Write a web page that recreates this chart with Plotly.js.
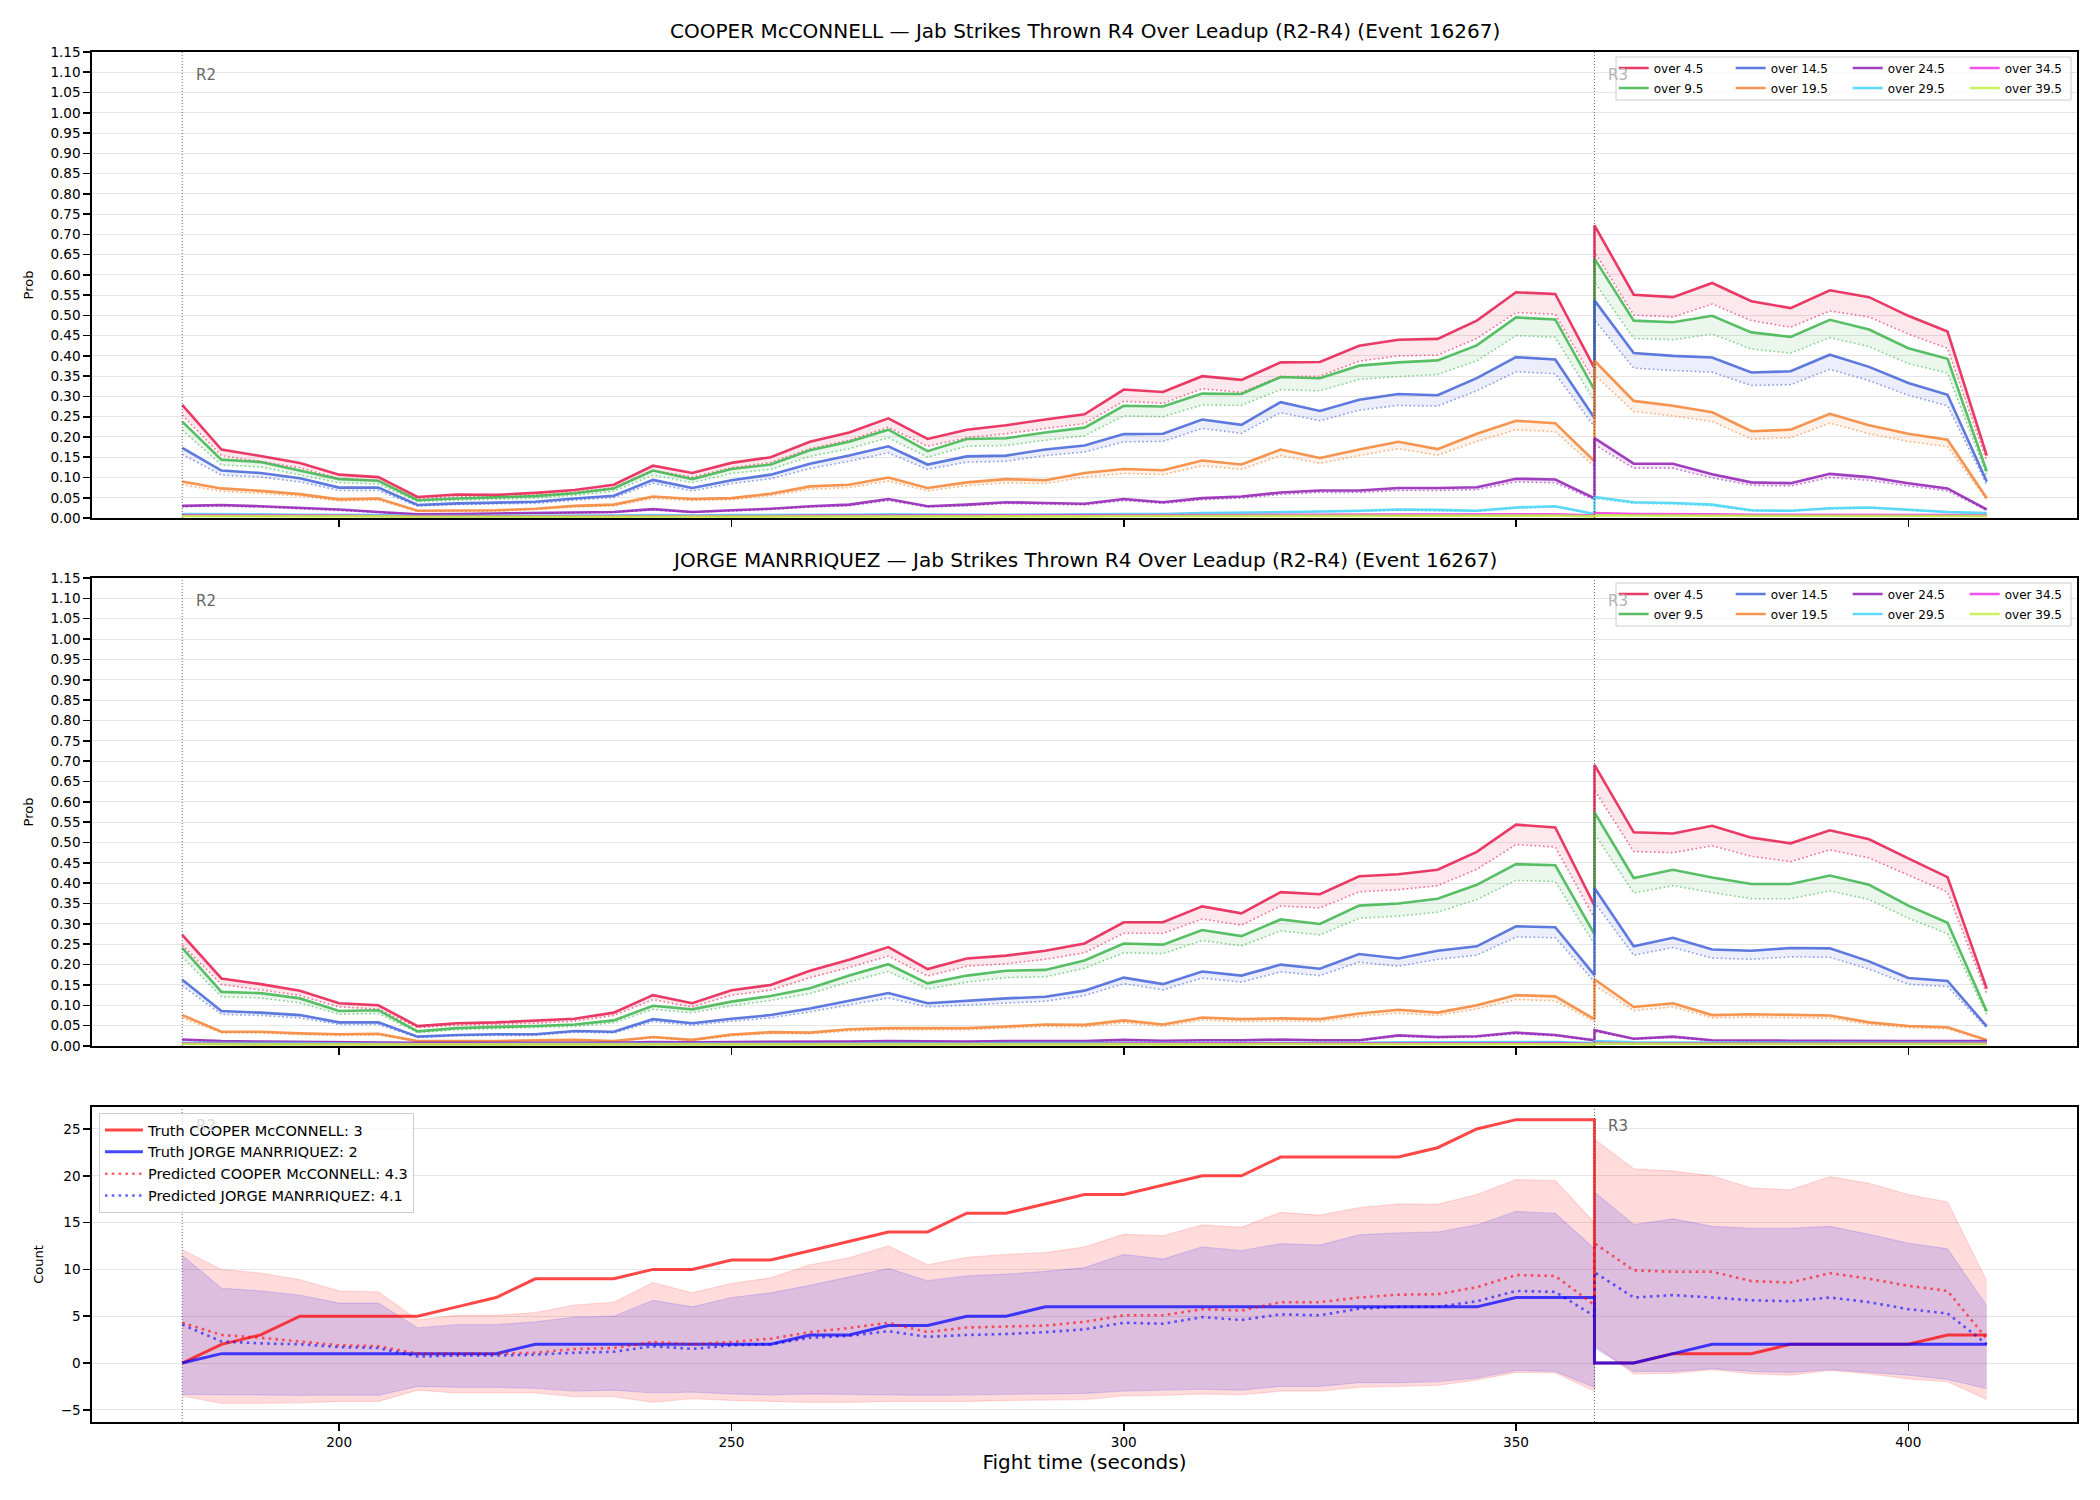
<!DOCTYPE html>
<html>
<head>
<meta charset="utf-8">
<script src="https://cdn.plot.ly/plotly-3.0.1.min.js"></script>
<style>
  html, body { margin: 0; padding: 0; background: #ffffff; }
  #chart { width: 2100px; height: 1500px; }
</style>
</head>
<body>
<div id="chart"></div>
<script>
// Fight clock (seconds). 360 appears twice: end of R2 and start of R3.
const fightTime = [180,185,190,195,200,205,210,215,220,225,230,235,240,245,250,255,260,265,270,275,280,285,290,295,300,305,310,315,320,325,330,335,340,345,350,355,360,360,365,370,375,380,385,390,395,400,405,410];

const thresholdLabels = ['over 4.5','over 9.5','over 14.5','over 19.5','over 24.5','over 29.5','over 34.5','over 39.5'];

// COOPER McCONNELL: probability of exceeding each jab threshold (solid) and companion curve (dotted)
const cooperOver4_5  = [0.279,0.169,0.153,0.136,0.107,0.101,0.052,0.058,0.057,0.062,0.069,0.082,0.129,0.111,0.136,0.150,0.188,0.211,0.246,0.195,0.218,0.229,0.243,0.256,0.317,0.311,0.350,0.341,0.384,0.385,0.425,0.440,0.442,0.487,0.557,0.553,0.370,0.722,0.551,0.545,0.580,0.535,0.518,0.562,0.545,0.499,0.460,0.154];
const cooperOver4_5Dot = [0.254,0.154,0.139,0.124,0.097,0.092,0.047,0.053,0.052,0.056,0.063,0.075,0.117,0.101,0.124,0.137,0.171,0.192,0.224,0.177,0.198,0.208,0.221,0.233,0.288,0.283,0.319,0.310,0.349,0.350,0.387,0.400,0.402,0.443,0.507,0.503,0.337,0.657,0.501,0.496,0.528,0.487,0.471,0.511,0.496,0.454,0.419,0.140];
const cooperOver9_5  = [0.238,0.144,0.138,0.117,0.096,0.092,0.044,0.048,0.051,0.054,0.061,0.073,0.117,0.096,0.121,0.132,0.167,0.188,0.218,0.165,0.195,0.197,0.211,0.223,0.277,0.275,0.307,0.306,0.348,0.345,0.376,0.384,0.389,0.426,0.495,0.490,0.317,0.640,0.487,0.483,0.499,0.458,0.447,0.489,0.465,0.419,0.393,0.115];
const cooperOver9_5Dot = [0.217,0.131,0.126,0.106,0.087,0.084,0.040,0.044,0.046,0.049,0.056,0.066,0.106,0.087,0.110,0.120,0.152,0.171,0.198,0.150,0.177,0.179,0.192,0.203,0.252,0.250,0.279,0.278,0.317,0.314,0.342,0.349,0.354,0.388,0.450,0.446,0.288,0.582,0.443,0.440,0.454,0.417,0.407,0.445,0.423,0.381,0.358,0.105];
const cooperOver14_5 = [0.173,0.117,0.111,0.098,0.075,0.075,0.032,0.036,0.038,0.040,0.048,0.055,0.094,0.074,0.093,0.107,0.134,0.154,0.177,0.132,0.152,0.154,0.169,0.179,0.207,0.208,0.243,0.230,0.286,0.264,0.292,0.306,0.303,0.345,0.397,0.391,0.247,0.537,0.407,0.400,0.396,0.359,0.362,0.403,0.373,0.333,0.304,0.090];
const cooperOver14_5Dot = [0.157,0.106,0.101,0.089,0.068,0.068,0.029,0.033,0.035,0.036,0.044,0.050,0.086,0.067,0.085,0.097,0.122,0.140,0.161,0.120,0.138,0.140,0.154,0.163,0.188,0.189,0.221,0.209,0.260,0.240,0.266,0.278,0.276,0.314,0.361,0.356,0.225,0.489,0.370,0.364,0.360,0.327,0.329,0.367,0.339,0.303,0.277,0.082];
const cooperOver19_5 = [0.090,0.073,0.067,0.059,0.046,0.048,0.018,0.019,0.019,0.023,0.030,0.033,0.053,0.047,0.049,0.060,0.078,0.082,0.100,0.074,0.088,0.096,0.093,0.111,0.121,0.118,0.142,0.132,0.169,0.148,0.169,0.188,0.170,0.208,0.240,0.234,0.140,0.388,0.289,0.277,0.261,0.214,0.218,0.257,0.229,0.208,0.193,0.049];
const cooperOver19_5Dot = [0.082,0.066,0.061,0.054,0.042,0.044,0.016,0.017,0.017,0.021,0.027,0.030,0.048,0.043,0.045,0.055,0.071,0.075,0.091,0.067,0.080,0.087,0.085,0.101,0.110,0.107,0.129,0.120,0.154,0.135,0.154,0.171,0.155,0.189,0.218,0.213,0.127,0.353,0.263,0.252,0.238,0.195,0.198,0.234,0.208,0.189,0.176,0.045];
const cooperOver24_5 = [0.030,0.032,0.029,0.025,0.021,0.015,0.009,0.010,0.011,0.012,0.013,0.015,0.022,0.015,0.019,0.023,0.029,0.033,0.047,0.029,0.033,0.039,0.037,0.035,0.047,0.039,0.049,0.053,0.063,0.068,0.068,0.074,0.074,0.076,0.097,0.095,0.049,0.197,0.134,0.134,0.108,0.088,0.086,0.109,0.101,0.086,0.073,0.021];
const cooperOver24_5Dot = [0.028,0.029,0.027,0.023,0.019,0.014,0.008,0.009,0.010,0.011,0.012,0.014,0.020,0.014,0.017,0.021,0.027,0.030,0.043,0.027,0.030,0.036,0.034,0.032,0.043,0.036,0.045,0.049,0.058,0.063,0.063,0.068,0.068,0.070,0.089,0.087,0.045,0.181,0.123,0.123,0.099,0.081,0.079,0.100,0.093,0.079,0.067,0.019];
const cooperOver29_5 = [0.010,0.010,0.009,0.008,0.008,0.007,0.005,0.005,0.005,0.006,0.006,0.006,0.007,0.006,0.007,0.007,0.008,0.008,0.009,0.008,0.008,0.008,0.008,0.009,0.010,0.010,0.012,0.013,0.015,0.016,0.018,0.021,0.020,0.018,0.026,0.029,0.010,0.052,0.039,0.037,0.033,0.019,0.018,0.024,0.026,0.021,0.015,0.012];
const cooperOver29_5Dot = [0.009,0.009,0.008,0.007,0.007,0.006,0.005,0.005,0.005,0.005,0.005,0.005,0.006,0.005,0.006,0.006,0.007,0.007,0.008,0.007,0.007,0.007,0.007,0.008,0.009,0.009,0.011,0.012,0.014,0.015,0.016,0.019,0.018,0.016,0.024,0.027,0.009,0.048,0.036,0.034,0.030,0.017,0.017,0.022,0.024,0.019,0.014,0.011];
const cooperOver34_5 = [0.007,0.007,0.006,0.006,0.006,0.005,0.004,0.004,0.004,0.004,0.005,0.005,0.005,0.005,0.005,0.005,0.006,0.006,0.006,0.006,0.006,0.006,0.006,0.006,0.007,0.007,0.007,0.007,0.008,0.008,0.008,0.008,0.008,0.008,0.009,0.009,0.006,0.012,0.010,0.010,0.009,0.008,0.008,0.008,0.008,0.008,0.007,0.006];
const cooperOver34_5Dot = [0.006,0.006,0.006,0.005,0.005,0.005,0.004,0.004,0.004,0.004,0.004,0.004,0.005,0.004,0.005,0.005,0.005,0.005,0.006,0.005,0.005,0.005,0.005,0.006,0.006,0.006,0.006,0.006,0.007,0.007,0.007,0.007,0.007,0.007,0.008,0.008,0.005,0.011,0.009,0.009,0.008,0.007,0.007,0.007,0.007,0.007,0.006,0.005];
const cooperOver39_5 = [0.005,0.005,0.005,0.005,0.004,0.004,0.003,0.003,0.003,0.003,0.003,0.003,0.004,0.004,0.004,0.004,0.004,0.004,0.004,0.004,0.004,0.004,0.004,0.004,0.005,0.005,0.005,0.005,0.005,0.005,0.005,0.005,0.005,0.005,0.006,0.006,0.004,0.007,0.006,0.006,0.006,0.005,0.005,0.005,0.005,0.005,0.005,0.005];
const cooperOver39_5Dot = [0.004,0.004,0.004,0.004,0.004,0.004,0.003,0.003,0.003,0.003,0.003,0.003,0.003,0.003,0.003,0.003,0.004,0.004,0.004,0.004,0.004,0.004,0.004,0.004,0.004,0.004,0.004,0.004,0.005,0.005,0.005,0.005,0.005,0.005,0.005,0.005,0.004,0.006,0.005,0.005,0.005,0.005,0.005,0.005,0.005,0.005,0.004,0.004];

// JORGE MANRRIQUEZ
const jorgeOver4_5  = [0.273,0.166,0.152,0.136,0.105,0.100,0.049,0.056,0.058,0.062,0.067,0.082,0.125,0.105,0.137,0.150,0.185,0.212,0.243,0.189,0.215,0.222,0.234,0.252,0.304,0.304,0.343,0.326,0.378,0.373,0.417,0.422,0.433,0.477,0.544,0.537,0.345,0.691,0.525,0.522,0.541,0.512,0.498,0.530,0.508,0.461,0.415,0.141];
const jorgeOver4_5Dot = [0.248,0.151,0.138,0.124,0.096,0.091,0.045,0.051,0.053,0.056,0.061,0.075,0.114,0.096,0.125,0.137,0.168,0.193,0.221,0.172,0.196,0.202,0.213,0.229,0.277,0.277,0.312,0.297,0.344,0.339,0.379,0.384,0.394,0.434,0.495,0.489,0.314,0.629,0.478,0.475,0.492,0.466,0.453,0.482,0.462,0.420,0.378,0.128];
const jorgeOver9_5  = [0.241,0.133,0.130,0.117,0.086,0.088,0.036,0.044,0.047,0.049,0.053,0.063,0.099,0.090,0.109,0.123,0.142,0.173,0.201,0.154,0.173,0.185,0.187,0.210,0.252,0.249,0.285,0.270,0.311,0.300,0.345,0.350,0.362,0.396,0.447,0.444,0.275,0.574,0.413,0.433,0.414,0.398,0.398,0.419,0.396,0.345,0.303,0.085];
const jorgeOver9_5Dot = [0.219,0.121,0.118,0.106,0.078,0.080,0.033,0.040,0.043,0.045,0.048,0.057,0.090,0.082,0.099,0.112,0.129,0.157,0.183,0.140,0.157,0.168,0.170,0.191,0.229,0.227,0.259,0.246,0.283,0.273,0.314,0.319,0.329,0.360,0.407,0.404,0.250,0.522,0.376,0.394,0.377,0.362,0.362,0.381,0.360,0.314,0.276,0.077];
const jorgeOver14_5 = [0.163,0.086,0.082,0.076,0.058,0.058,0.023,0.027,0.029,0.029,0.037,0.035,0.066,0.056,0.067,0.076,0.092,0.111,0.130,0.105,0.111,0.117,0.121,0.136,0.168,0.152,0.183,0.173,0.200,0.190,0.226,0.215,0.234,0.245,0.294,0.292,0.174,0.388,0.245,0.266,0.237,0.234,0.241,0.240,0.208,0.167,0.160,0.048];
const jorgeOver14_5Dot = [0.148,0.078,0.075,0.069,0.053,0.053,0.021,0.025,0.026,0.026,0.034,0.032,0.060,0.051,0.061,0.069,0.084,0.101,0.118,0.096,0.101,0.106,0.110,0.124,0.153,0.138,0.167,0.157,0.182,0.173,0.206,0.196,0.213,0.223,0.268,0.266,0.158,0.353,0.223,0.242,0.216,0.213,0.219,0.218,0.189,0.152,0.146,0.044];
const jorgeOver19_5 = [0.076,0.035,0.035,0.031,0.029,0.030,0.012,0.012,0.012,0.014,0.015,0.012,0.022,0.015,0.028,0.034,0.033,0.041,0.044,0.044,0.044,0.048,0.053,0.052,0.063,0.053,0.070,0.066,0.068,0.066,0.080,0.089,0.082,0.100,0.125,0.122,0.066,0.164,0.096,0.105,0.076,0.078,0.076,0.075,0.058,0.049,0.046,0.015];
const jorgeOver19_5Dot = [0.069,0.032,0.032,0.028,0.026,0.027,0.011,0.011,0.011,0.013,0.014,0.011,0.020,0.014,0.025,0.031,0.030,0.037,0.040,0.040,0.040,0.044,0.048,0.047,0.057,0.048,0.064,0.060,0.062,0.060,0.073,0.081,0.075,0.091,0.114,0.111,0.060,0.149,0.087,0.096,0.069,0.071,0.069,0.068,0.053,0.045,0.042,0.014];
const jorgeOver24_5 = [0.016,0.012,0.011,0.010,0.009,0.009,0.008,0.008,0.008,0.008,0.008,0.008,0.010,0.009,0.010,0.010,0.011,0.011,0.012,0.011,0.011,0.012,0.012,0.012,0.015,0.013,0.014,0.014,0.016,0.014,0.014,0.026,0.022,0.024,0.033,0.027,0.014,0.039,0.018,0.023,0.014,0.013,0.013,0.013,0.012,0.012,0.012,0.012];
const jorgeOver24_5Dot = [0.015,0.011,0.010,0.009,0.008,0.008,0.007,0.007,0.007,0.007,0.007,0.007,0.009,0.008,0.009,0.009,0.010,0.010,0.011,0.010,0.010,0.011,0.011,0.011,0.014,0.012,0.013,0.013,0.015,0.013,0.013,0.024,0.020,0.022,0.030,0.025,0.013,0.036,0.017,0.021,0.013,0.012,0.012,0.012,0.011,0.011,0.011,0.011];
const jorgeOver29_5 = [0.008,0.007,0.007,0.007,0.006,0.006,0.005,0.005,0.005,0.005,0.005,0.005,0.006,0.005,0.006,0.006,0.006,0.006,0.007,0.006,0.006,0.007,0.007,0.007,0.007,0.007,0.007,0.007,0.008,0.008,0.008,0.009,0.009,0.009,0.010,0.010,0.007,0.012,0.009,0.009,0.008,0.008,0.008,0.008,0.008,0.008,0.008,0.008];
const jorgeOver29_5Dot = [0.007,0.006,0.006,0.006,0.005,0.005,0.004,0.004,0.004,0.004,0.004,0.004,0.005,0.004,0.005,0.005,0.005,0.005,0.006,0.005,0.005,0.006,0.006,0.006,0.006,0.006,0.006,0.006,0.007,0.007,0.007,0.008,0.008,0.008,0.009,0.009,0.006,0.011,0.008,0.008,0.007,0.007,0.007,0.007,0.007,0.007,0.007,0.007];
const jorgeOver34_5 = [0.006,0.005,0.005,0.005,0.005,0.005,0.004,0.004,0.004,0.004,0.004,0.004,0.005,0.004,0.005,0.005,0.005,0.005,0.005,0.005,0.005,0.005,0.005,0.005,0.006,0.006,0.006,0.006,0.006,0.006,0.006,0.007,0.007,0.007,0.007,0.007,0.005,0.008,0.006,0.006,0.006,0.006,0.006,0.006,0.006,0.006,0.006,0.006];
const jorgeOver34_5Dot = [0.005,0.005,0.005,0.004,0.004,0.004,0.004,0.004,0.004,0.004,0.004,0.004,0.004,0.004,0.004,0.004,0.004,0.004,0.005,0.004,0.004,0.005,0.005,0.005,0.005,0.005,0.005,0.005,0.005,0.005,0.005,0.006,0.006,0.006,0.006,0.006,0.004,0.007,0.005,0.005,0.005,0.005,0.005,0.005,0.005,0.005,0.005,0.005];
const jorgeOver39_5 = [0.005,0.004,0.004,0.004,0.004,0.004,0.003,0.003,0.003,0.003,0.003,0.003,0.004,0.003,0.004,0.004,0.004,0.004,0.004,0.004,0.004,0.004,0.004,0.004,0.004,0.004,0.004,0.004,0.005,0.005,0.005,0.005,0.005,0.005,0.005,0.005,0.004,0.006,0.005,0.005,0.005,0.005,0.005,0.005,0.005,0.005,0.005,0.005];
const jorgeOver39_5Dot = [0.004,0.004,0.004,0.004,0.003,0.003,0.003,0.003,0.003,0.003,0.003,0.003,0.003,0.003,0.003,0.003,0.003,0.003,0.004,0.003,0.003,0.004,0.004,0.004,0.004,0.004,0.004,0.004,0.004,0.004,0.004,0.004,0.004,0.004,0.005,0.005,0.003,0.005,0.004,0.004,0.004,0.004,0.004,0.004,0.004,0.004,0.004,0.004];

// Cumulative jab counts: truth, predicted mean and predicted band
const truthCooper = [0,2,3,5,5,5,5,6,7,9,9,9,10,10,11,11,12,13,14,14,16,16,17,18,18,19,20,20,22,22,22,22,23,25,26,26,26,0,0,1,1,1,2,2,2,2,3,3];
const truthJorge  = [0,1,1,1,1,1,1,1,1,2,2,2,2,2,2,2,3,3,4,4,5,5,6,6,6,6,6,6,6,6,6,6,6,6,7,7,7,0,0,1,2,2,2,2,2,2,2,2];
const predCooper  = [4.3,3.0,2.7,2.3,1.9,1.8,1.0,1.0,1.0,1.1,1.5,1.6,2.25,2.0,2.25,2.6,3.3,3.75,4.3,3.3,3.8,3.9,4.0,4.4,5.1,5.1,5.75,5.6,6.5,6.5,7.0,7.3,7.35,8.1,9.4,9.3,6.2,12.8,9.9,9.75,9.75,8.75,8.6,9.6,9.0,8.25,7.7,2.6];
const predJorge   = [4.1,2.3,2.1,2.0,1.7,1.6,0.7,0.8,0.8,0.9,1.1,1.2,1.8,1.5,1.9,2.0,2.7,2.9,3.4,2.8,3.0,3.1,3.3,3.6,4.3,4.2,4.9,4.6,5.2,5.1,5.8,6.0,6.0,6.6,7.7,7.6,5.0,9.7,7.0,7.25,7.0,6.7,6.6,7.0,6.5,5.75,5.3,2.0];
const cooperBandHi = [12.1,10.0,9.6,8.9,7.7,7.6,4.6,5.1,5.1,5.4,6.2,6.5,8.6,7.5,8.5,9.1,10.5,11.25,12.5,10.5,11.3,11.6,11.8,12.4,13.75,13.6,14.75,14.5,16.1,15.8,16.6,17.0,16.95,18.0,19.6,19.5,15.0,23.9,20.75,20.5,20.0,18.7,18.5,19.9,19.2,18.0,17.2,8.75];
const cooperBandLo = [-3.5,-4.3,-4.3,-4.25,-4.1,-4.1,-2.9,-3.2,-3.2,-3.2,-3.6,-3.6,-4.2,-3.8,-4.0,-4.1,-4.2,-4.2,-4.1,-4.1,-4.1,-4.0,-3.95,-3.9,-3.5,-3.45,-3.3,-3.4,-3.0,-3.0,-2.6,-2.5,-2.4,-1.8,-1.0,-1.05,-3.0,1.9,-1.15,-1.1,-0.7,-1.15,-1.3,-0.8,-1.15,-1.7,-2.0,-3.9];
const jorgeBandHi = [11.5,8.0,7.7,7.25,6.4,6.4,3.75,4.1,4.1,4.4,4.9,5.0,6.7,6.0,7.0,7.5,8.3,9.2,10.1,8.8,9.3,9.5,9.8,10.2,11.6,11.1,12.4,12.0,12.75,12.6,13.7,13.9,14.0,14.75,16.2,16.0,12.2,18.25,14.8,15.4,14.6,14.4,14.4,14.6,13.75,12.8,12.2,6.1];
const jorgeBandLo = [-3.35,-3.4,-3.45,-3.45,-3.4,-3.45,-2.5,-2.6,-2.6,-2.7,-3.0,-2.9,-3.2,-3.1,-3.3,-3.4,-3.3,-3.35,-3.35,-3.45,-3.4,-3.35,-3.35,-3.25,-3.0,-2.9,-2.8,-2.9,-2.5,-2.5,-2.1,-2.1,-2.0,-1.6,-0.8,-0.9,-2.6,1.6,-0.9,-0.9,-0.6,-0.9,-1.0,-0.7,-1.0,-1.3,-1.75,-2.75];

const roundStarts = [180, 360];
const roundNames = ['R2', 'R3'];

const palette = ['#e6194B','#3cb44b','#4363d8','#f58231','#911eb4','#42d4f4','#f032e6','#bfef45'];
function rgba(hex, a) {
  const n = parseInt(hex.slice(1), 16);
  return 'rgba(' + ((n >> 16) & 255) + ',' + ((n >> 8) & 255) + ',' + (n & 255) + ',' + a + ')';
}

const cooperSolid = [cooperOver4_5, cooperOver9_5, cooperOver14_5, cooperOver19_5, cooperOver24_5, cooperOver29_5, cooperOver34_5, cooperOver39_5];
const cooperDot   = [cooperOver4_5Dot, cooperOver9_5Dot, cooperOver14_5Dot, cooperOver19_5Dot, cooperOver24_5Dot, cooperOver29_5Dot, cooperOver34_5Dot, cooperOver39_5Dot];
const jorgeSolid  = [jorgeOver4_5, jorgeOver9_5, jorgeOver14_5, jorgeOver19_5, jorgeOver24_5, jorgeOver29_5, jorgeOver34_5, jorgeOver39_5];
const jorgeDot    = [jorgeOver4_5Dot, jorgeOver9_5Dot, jorgeOver14_5Dot, jorgeOver19_5Dot, jorgeOver24_5Dot, jorgeOver29_5Dot, jorgeOver34_5Dot, jorgeOver39_5Dot];

// One probability panel: solid curve per threshold, dotted companion, shaded gap between them
function probPanel(solids, dots, xa, ya, legRow1, legRow2) {
  const out = [];
  thresholdLabels.forEach((lab, i) => {
    out.push({
      type: 'scatter', mode: 'lines', x: fightTime, y: solids[i], xaxis: xa, yaxis: ya,
      name: lab, legend: (i % 2 === 0) ? legRow1 : legRow2,
      line: { color: rgba(palette[i], 0.85), width: 2.6 }, hoverinfo: 'skip'
    });
    out.push({
      type: 'scatter', mode: 'lines', x: fightTime, y: dots[i], xaxis: xa, yaxis: ya,
      showlegend: false, fill: 'tonexty', fillcolor: rgba(palette[i], 0.1),
      line: { color: rgba(palette[i], 0.6), width: 1.6, dash: '1.6px,2.6px' }, hoverinfo: 'skip'
    });
  });
  return out;
}

const traces = [].concat(
  probPanel(cooperSolid, cooperDot, 'x', 'y', 'legend', 'legend2'),
  probPanel(jorgeSolid, jorgeDot, 'x2', 'y2', 'legend3', 'legend4')
);

// Count panel: bands first, then truth and predicted lines
traces.push(
  { type: 'scatter', mode: 'lines', x: fightTime, y: cooperBandHi, xaxis: 'x3', yaxis: 'y3', showlegend: false,
    line: { color: 'rgba(255,0,0,0.13)', width: 1.2 }, hoverinfo: 'skip' },
  { type: 'scatter', mode: 'lines', x: fightTime, y: cooperBandLo, xaxis: 'x3', yaxis: 'y3', showlegend: false,
    fill: 'tonexty', fillcolor: 'rgba(255,0,0,0.14)', line: { color: 'rgba(255,0,0,0.13)', width: 1.2 }, hoverinfo: 'skip' },
  { type: 'scatter', mode: 'lines', x: fightTime, y: jorgeBandHi, xaxis: 'x3', yaxis: 'y3', showlegend: false,
    line: { color: 'rgba(0,0,255,0.12)', width: 1.2 }, hoverinfo: 'skip' },
  { type: 'scatter', mode: 'lines', x: fightTime, y: jorgeBandLo, xaxis: 'x3', yaxis: 'y3', showlegend: false,
    fill: 'tonexty', fillcolor: 'rgba(0,0,255,0.13)', line: { color: 'rgba(0,0,255,0.12)', width: 1.2 }, hoverinfo: 'skip' },
  { type: 'scatter', mode: 'lines', x: fightTime, y: truthCooper, xaxis: 'x3', yaxis: 'y3', legend: 'legend5',
    name: 'Truth COOPER McCONNELL: ' + truthCooper[truthCooper.length - 1],
    line: { color: 'rgba(255,0,0,0.72)', width: 3 }, hoverinfo: 'skip' },
  { type: 'scatter', mode: 'lines', x: fightTime, y: truthJorge, xaxis: 'x3', yaxis: 'y3', legend: 'legend5',
    name: 'Truth JORGE MANRRIQUEZ: ' + truthJorge[truthJorge.length - 1],
    line: { color: 'rgba(0,0,255,0.72)', width: 3 }, hoverinfo: 'skip' },
  { type: 'scatter', mode: 'lines', x: fightTime, y: predCooper, xaxis: 'x3', yaxis: 'y3', legend: 'legend5',
    name: 'Predicted COOPER McCONNELL: ' + predCooper[0].toFixed(1),
    line: { color: 'rgba(255,0,0,0.6)', width: 2.6, dash: '2.6px,4.2px' }, hoverinfo: 'skip' },
  { type: 'scatter', mode: 'lines', x: fightTime, y: predJorge, xaxis: 'x3', yaxis: 'y3', legend: 'legend5',
    name: 'Predicted JORGE MANRRIQUEZ: ' + predJorge[0].toFixed(1),
    line: { color: 'rgba(0,0,255,0.6)', width: 2.6, dash: '2.6px,4.2px' }, hoverinfo: 'skip' }
);

const FONT = 'DejaVu Sans, Liberation Sans, sans-serif';
const axisBase = {
  showline: true, mirror: true, linecolor: '#000', linewidth: 1.6,
  ticks: 'outside', ticklen: 7, tickwidth: 1.6, tickcolor: '#000',
  zeroline: false, automargin: false, tickfont: { size: 13.6, color: '#000' }
};
const xBase = Object.assign({}, axisBase, {
  range: [168.5, 421.5], tickvals: [200, 250, 300, 350, 400], showgrid: false
});
const probY = Object.assign({}, axisBase, {
  range: [0, 1.15], tick0: 0, dtick: 0.05, tickformat: '.2f',
  showgrid: true, gridcolor: '#e6e6e6', gridwidth: 1,
  title: { text: 'Prob', font: { size: 13, color: '#000' }, standoff: 14 }
});

// Round dividers on every panel
const shapes = [];
['y', 'y2', 'y3'].forEach((ya, k) => {
  const xa = ['x', 'x2', 'x3'][k];
  roundStarts.forEach(t => {
    shapes.push({ type: 'line', xref: xa, yref: ya + ' domain', x0: t, x1: t, y0: 0, y1: 1,
      line: { color: 'rgba(60,60,60,0.75)', width: 1, dash: '1px,2px' }, layer: 'above' });
  });
});
// Frames for the two-row threshold legends
const legendBoxes = [[0.96496, 0.99635], [0.58102, 0.61241]];
legendBoxes.forEach(b => {
  shapes.push({ type: 'rect', xref: 'paper', yref: 'paper', x0: 0.76776, x1: 0.99698, y0: b[0], y1: b[1],
    fillcolor: 'rgba(255,255,255,0.8)', line: { color: '#cccccc', width: 1 }, layer: 'above' });
});

const annotations = [
  { text: 'COOPER McCONNELL — Jab Strikes Thrown R4 Over Leadup (R2-R4) (Event 16267)', xref: 'paper', yref: 'paper',
    x: 0.5, y: 1.0153, xanchor: 'center', yanchor: 'middle', showarrow: false, font: { size: 20, color: '#000' } },
  { text: 'JORGE MANRRIQUEZ — Jab Strikes Thrown R4 Over Leadup (R2-R4) (Event 16267)', xref: 'paper', yref: 'paper',
    x: 0.5, y: 0.6292, xanchor: 'center', yanchor: 'middle', showarrow: false, font: { size: 20, color: '#000' } }
];
// Round labels; those sitting under a legend frame are drawn faded
const roundLabelColors = [['#666666', '#b4b4b4'], ['#666666', '#b4b4b4'], ['#dcdcdc', '#666666']];
['x', 'x2', 'x3'].forEach((xa, k) => {
  const ya = ['y', 'y2', 'y3'][k];
  roundStarts.forEach((t, j) => {
    annotations.push({ text: roundNames[j], xref: xa, yref: ya + ' domain', x: t, y: 0.975,
      xanchor: 'left', yanchor: 'top', xshift: 12, showarrow: false,
      font: { size: 15, color: roundLabelColors[k][j] } });
  });
});

const rowLegend = (y) => ({
  orientation: 'h', x: 0.7666, y: y, xanchor: 'left', yanchor: 'middle', xref: 'paper', yref: 'paper',
  bgcolor: 'rgba(0,0,0,0)', borderwidth: 0, font: { size: 12, color: '#000' },
  entrywidth: 72, entrywidthmode: 'pixels', itemwidth: 30, traceorder: 'normal'
});

const layout = {
  width: 2100, height: 1500,
  margin: { l: 92, r: 23, t: 52, b: 78, pad: 0 },
  paper_bgcolor: '#ffffff', plot_bgcolor: '#ffffff',
  font: { family: FONT, color: '#000' },
  showlegend: true,
  xaxis: Object.assign({}, xBase, { anchor: 'y', domain: [0, 1], showticklabels: false }),
  xaxis2: Object.assign({}, xBase, { anchor: 'y2', domain: [0, 1], showticklabels: false }),
  xaxis3: Object.assign({}, xBase, { anchor: 'y3', domain: [0, 1],
    title: { text: 'Fight time (seconds)', font: { size: 20, color: '#000' }, standoff: 6 } }),
  yaxis: Object.assign({}, probY, { anchor: 'x', domain: [0.65985, 1] }),
  yaxis2: Object.assign({}, probY, { anchor: 'x2', domain: [0.27445, 0.61606] }),
  yaxis3: Object.assign({}, axisBase, { anchor: 'x3', domain: [0, 0.22993], range: [-6.3, 27.35],
    tickvals: [-5, 0, 5, 10, 15, 20, 25], showgrid: true, gridcolor: '#e6e6e6', gridwidth: 1,
    title: { text: 'Count', font: { size: 13, color: '#000' }, standoff: 14 } }),
  legend: rowLegend(0.98832),
  legend2: rowLegend(0.97372),
  legend3: rowLegend(0.60438),
  legend4: rowLegend(0.58978),
  legend5: { orientation: 'v', x: 0.0035, y: 0.2255, xanchor: 'left', yanchor: 'top', xref: 'paper', yref: 'paper',
    bgcolor: 'rgba(255,255,255,0.8)', bordercolor: '#cccccc', borderwidth: 1,
    font: { size: 14.5, color: '#000' }, itemwidth: 38, traceorder: 'normal' },
  shapes: shapes,
  annotations: annotations
};

Plotly.newPlot('chart', traces, layout, { displayModeBar: false, staticPlot: true });
</script>
</body>
</html>
